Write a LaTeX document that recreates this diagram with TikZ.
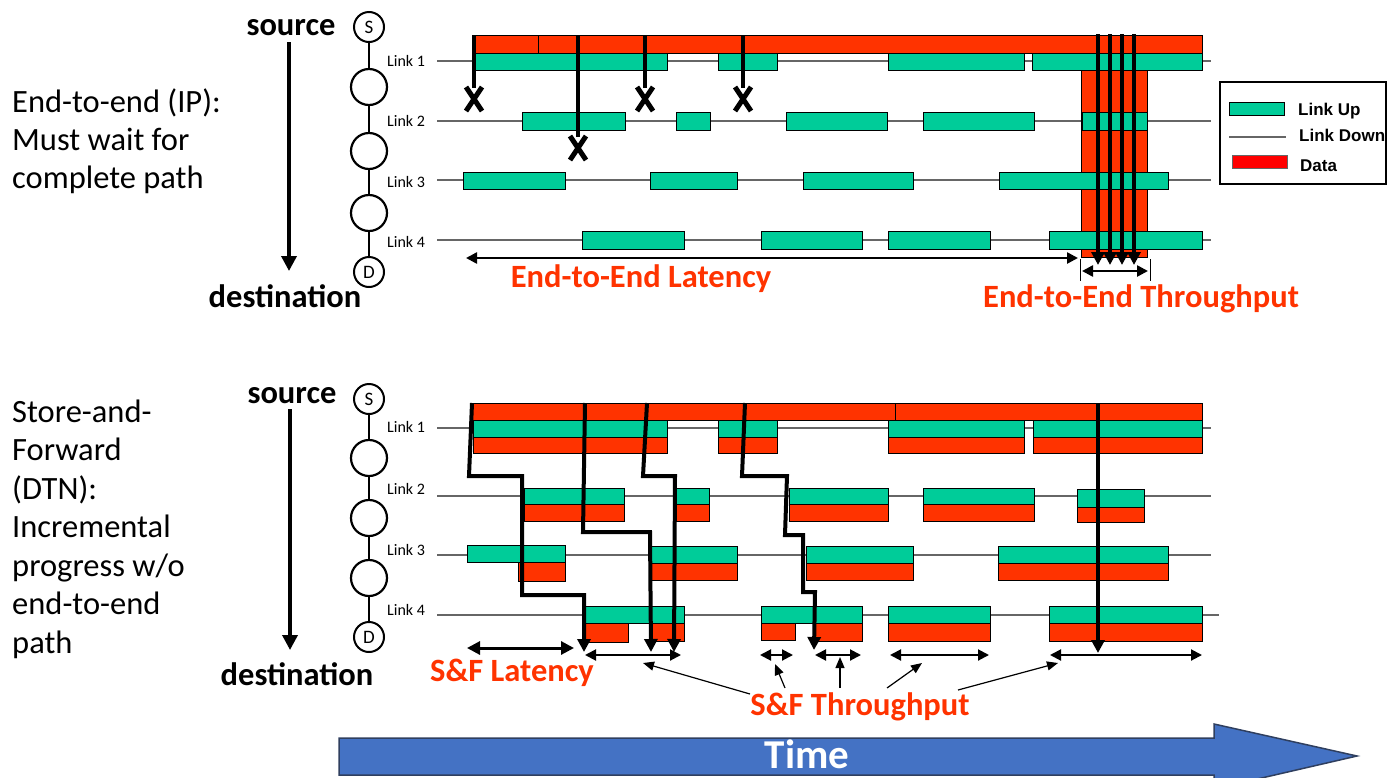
\documentclass[tikz,border=0pt]{standalone}
\usepackage{fontspec}
\setmainfont{Carlito}
\newfontfamily\arialfont{Liberation Sans}
\usetikzlibrary{arrows.meta}
\definecolor{upgreen}{HTML}{00CC99}
\definecolor{datared}{HTML}{FF3300}
\definecolor{legendred}{HTML}{FF0000}
\definecolor{timeblue}{HTML}{4472C4}
\definecolor{timeedge}{HTML}{2F3F5F}
\definecolor{linegray}{HTML}{666666}
\begin{document}
\begin{tikzpicture}[x=1pt,y=-1pt,
  upbar/.style={draw=black, line width=1pt, fill=upgreen},
  databar/.style={draw=black, line width=1pt, fill=datared},
  linkline/.style={draw=linegray, line width=1.3pt},
  hop/.style={circle, draw=black, line width=2.2pt, minimum size=36pt, inner sep=0pt},
  endhop/.style={circle, draw=black, line width=2pt, minimum size=30pt, inner sep=0pt, font=\fontsize{19}{19}\selectfont},
  chainline/.style={line width=2.5pt},
  flow/.style={line width=4pt, -{Triangle[length=13pt,width=13pt]}},
  drop/.style={line width=4.5pt},
  xmark/.style={line width=5pt},
  srcarrow/.style={line width=3.5pt, -{Triangle[length=15pt,width=15pt]}},
  span/.style={line width=2pt, {Triangle[length=11pt,width=11pt]}-{Triangle[length=11pt,width=11pt]}},
  bigspan/.style={line width=3pt, {Triangle[length=13pt,width=13pt]}-{Triangle[length=13pt,width=13pt]}},
  pointer/.style={line width=1.2pt, -{Triangle[length=11pt,width=9pt]}},
  bigtext/.style={font=\fontsize{32.5}{32.5}\selectfont, anchor=base west, inner sep=0pt},
  boldtext/.style={font=\bfseries\fontsize{32.5}{32.5}\selectfont, anchor=base},
  redtext/.style={font=\bfseries\fontsize{32.5}{32.5}\selectfont, anchor=base, text=datared},
  linklabel/.style={font=\fontsize{16}{16}\selectfont, anchor=base west, inner sep=0pt},
  legtext/.style={font=\arialfont\bfseries\fontsize{17}{17}\selectfont, anchor=base west, inner sep=0pt}
]
\useasboundingbox (0,0) rectangle (1387,777);

% ---------------- left texts ----------------
\node[bigtext] (la1) at (12,112) {End-to-end (IP):};
\node[bigtext] (la2) at (12,150) {Must wait for};
\node[bigtext] (la3) at (12,188) {complete path};
\node[bigtext] (lb1) at (12,422) {Store-and-};
\node[bigtext] (lb2) at (12,460.5) {Forward};
\node[bigtext] (lb3) at (12,499) {(DTN):};
\node[bigtext] (lb4) at (12,537.5) {Incremental};
\node[bigtext] (lb5) at (12,576) {progress w/o};
\node[bigtext] (lb6) at (12,614.5) {end-to-end};
\node[bigtext] (lb7) at (12,653) {path};

% ---------------- source / destination ----------------
\node[boldtext] (srcA) at (291,35) {source};
\node[boldtext] (dstA) at (285,307) {destination};
\coordinate (sa1) at (289,42);
\coordinate (sa2) at (289,271);
\draw[srcarrow] (sa1) -- (sa2);
\node[boldtext] (srcB) at (292,403) {source};
\node[boldtext] (dstB) at (297,685) {destination};
\coordinate (sb1) at (290,409);
\coordinate (sb2) at (290,650);
\draw[srcarrow] (sb1) -- (sb2);

% ---------------- node chains ----------------
\node[endhop] (tS) at (369,27) {S};
\node[hop] (t1) at (369,87) {};
\node[hop] (t2) at (369,151) {};
\node[hop] (t3) at (369,213) {};
\node[endhop] (tD) at (369,272) {D};
\draw[chainline] (tS) -- (t1) (t1) -- (t2) (t2) -- (t3) (t3) -- (tD);

\node[endhop] (bS) at (369,399) {S};
\node[hop] (b1) at (369,458) {};
\node[hop] (b2) at (369,518) {};
\node[hop] (b3) at (369,578) {};
\node[endhop] (bD) at (369,637) {D};
\draw[chainline] (bS) -- (b1) (b1) -- (b2) (b2) -- (b3) (b3) -- (bD);

% link labels
\node[linklabel] (tl1) at (387,66.5) {Link 1};
\node[linklabel] (tl2) at (387,126) {Link 2};
\node[linklabel] (tl3) at (387,187) {Link 3};
\node[linklabel] (tl4) at (387,247) {Link 4};
\node[linklabel] (bl1) at (387,432.5) {Link 1};
\node[linklabel] (bl2) at (387,494) {Link 2};
\node[linklabel] (bl3) at (387,555) {Link 3};
\node[linklabel] (bl4) at (387,615) {Link 4};

% ================= TOP: end-to-end =================
\foreach \y in {61,121,180,240} \draw[linkline] (437,\y) -- (1211,\y);
\draw[databar] (472,35) rectangle (1202,53);
\draw[line width=1pt] (538,35) -- (538,53);
\draw[databar] (1081.5,70) rectangle (1147,257);
\foreach \a/\b in {474/667,718/777,888/1024,1032/1202} \draw[upbar] (\a,53) rectangle (\b,70);
\foreach \a/\b in {522/625,676/710,786/887,923/1034,1082/1147} \draw[upbar] (\a,112) rectangle (\b,130);
\foreach \a/\b in {463/565,650/737,803/913,999/1168} \draw[upbar] (\a,172) rectangle (\b,189);
\foreach \a/\b in {582/684,761/862,888/990,1049/1202} \draw[upbar] (\a,231) rectangle (\b,249);

% dropped attempts
\foreach \x/\e in {474/88,578/137,645/88,743/88} {
  \draw[drop] (\x,35) -- (\x,\e);
  \draw[xmark] (\x-8,\e-1) -- (\x+8,\e+23) (\x+8,\e-1) -- (\x-8,\e+23);
}
% end-to-end flows
\foreach \x in {1098,1110,1122,1134} \draw[flow] (\x,34) -- (\x,265);

% latency / throughput
\coordinate (latA) at (466,258);
\coordinate (latB) at (1078,258);
\draw[span, line width=2.5pt] (latA) -- (latB);
\coordinate (thA) at (1082,271);
\coordinate (thB) at (1148,271);
\draw[span, line width=2.5pt] (thA) -- (thB);
\draw[line width=0.8pt] (1080,259) -- (1080,281) (1150,259) -- (1150,281);
\node[redtext] (e2eLat) at (641,287) {End-to-End Latency};
\node[redtext] (e2eThr) at (1141,307) {End-to-End Throughput};

% legend
\draw[line width=2pt] (1220,82) rectangle (1386,184);
\draw[upbar] (1229,102) rectangle (1284,115);
\draw[linkline] (1229,137) -- (1286,137);
\draw[draw=black!60, line width=1pt, fill=legendred] (1232,155) rectangle (1287,168);
\node[legtext] (lgUp) at (1298,115) {Link Up};
\node[legtext] (lgDown) at (1299,141.5) {Link Down};
\node[legtext] (lgData) at (1300,171.5) {Data};

% ================= BOTTOM: store and forward =================
\foreach \y in {428,496,555} \draw[linkline] (437,\y) -- (1211,\y);
\draw[linkline] (437,615) -- (1219,615);
\draw[databar] (472,403) rectangle (1202,420);
\draw[line width=1pt] (895,403) -- (895,420);
% link 1
\foreach \a/\b in {473/667,718/777,888/1024,1033/1202} {
  \draw[upbar] (\a,420) rectangle (\b,437);
  \draw[databar] (\a,437) rectangle (\b,453);
}
% link 2
\foreach \a/\b in {524/624,676/709,789/888,923/1034} {
  \draw[upbar] (\a,488) rectangle (\b,504);
  \draw[databar] (\a,504) rectangle (\b,521);
}
\draw[upbar] (1077,489) rectangle (1144,507);
\draw[databar] (1077,507) rectangle (1144,522);
% link 3
\draw[upbar] (467,545) rectangle (565,562);
\draw[databar] (518,562) rectangle (565,581);
\foreach \a/\b in {651/737,806/913,998/1168} {
  \draw[upbar] (\a,546) rectangle (\b,563);
  \draw[databar] (\a,563) rectangle (\b,580);
}
% link 4
\draw[upbar] (585,606) rectangle (684,623);
\draw[databar] (585,623) rectangle (628,642);
\draw[databar] (652,623) rectangle (684,641);
\draw[upbar] (761,606) rectangle (862,623);
\draw[databar] (761,623) rectangle (795,640);
\draw[databar] (813,623) rectangle (862,641);
\foreach \a/\b in {888/990,1049/1202} {
  \draw[upbar] (\a,606) rectangle (\b,623);
  \draw[databar] (\a,623) rectangle (\b,641);
}

% store-and-forward paths
\draw[flow] (472,403) -- (469,476) -- (522,476) -- (522,595) -- (584,595) -- (584,652);
\draw[flow] (585,403) -- (583,532) -- (650,532) -- (651,652);
\draw[flow] (647,403) -- (643,476) -- (675,476) -- (674,652);
\draw[flow] (745,403) -- (742,476) -- (787,476) -- (785,535) -- (803,535) -- (803,592) -- (815,592) -- (814,650);
\draw[flow] (1098,403) -- (1098,653);

% latency / throughput spans
\coordinate (sfl1) at (467,648);
\coordinate (sfl2) at (574,648);
\draw[bigspan] (sfl1) -- (sfl2);
\foreach \a/\b/\n in {585/681/1,760/793/2,815/861/3,890/989/4,1050/1202/5} {
  \coordinate (s\n a) at (\a,655);
  \coordinate (s\n b) at (\b,655);
  \draw[span] (s\n a) -- (s\n b);
}
\node[redtext] (sfLat) at (512,681) {S\&F Latency};
\node[redtext] (sfThr) at (860,715) {S\&F Throughput};
\coordinate (p1a) at (750,694); \coordinate (p1b) at (643,663);
\coordinate (p2a) at (785,688); \coordinate (p2b) at (775,664);
\coordinate (p3a) at (840,688); \coordinate (p3b) at (840,657);
\coordinate (p4a) at (887,688); \coordinate (p4b) at (922,663);
\coordinate (p5a) at (958,690); \coordinate (p5b) at (1058,663);
\foreach \n in {1,...,5} \draw[pointer] (p\n a) -- (p\n b);

% time arrow
\draw[fill=timeblue, draw=timeedge, line width=1.5pt] (339,738) -- (1214,738) -- (1214,724) -- (1357,756) -- (1214,789) -- (1214,775) -- (339,775) -- cycle;
\node[font=\bfseries\fontsize{41}{41}\selectfont, text=white, anchor=base] (time) at (807,768) {Time};
\end{tikzpicture}
\end{document}
